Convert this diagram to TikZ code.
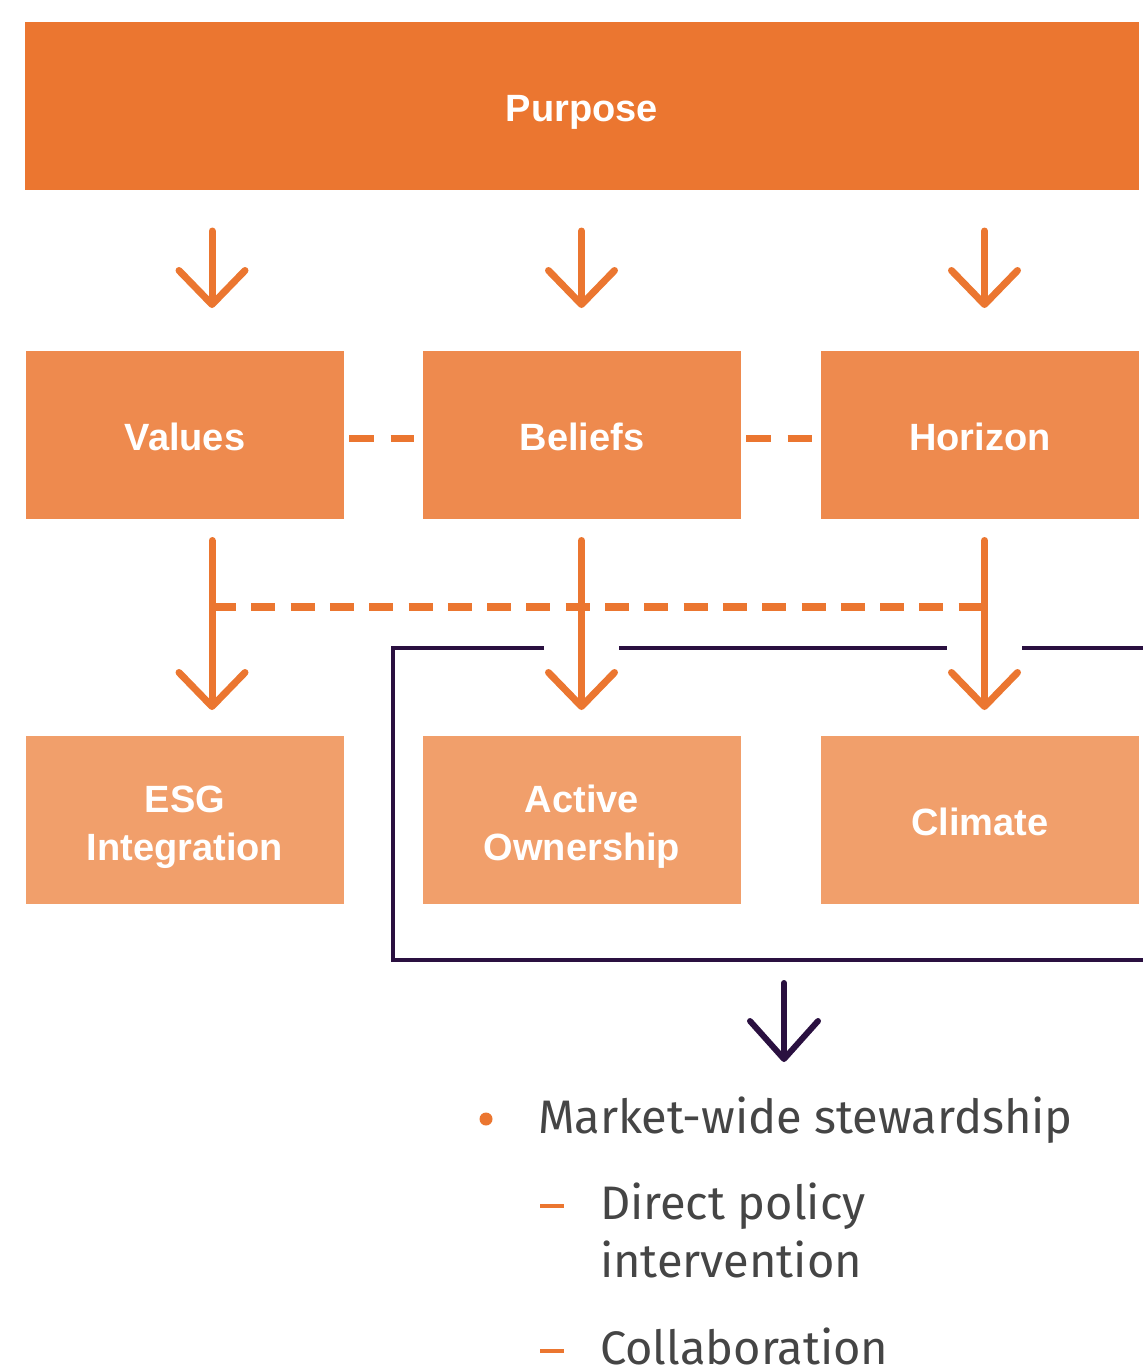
\documentclass[tikz,border=0pt]{standalone}
\usepackage{fontspec}
\setmainfont{Liberation Sans}
\newfontfamily\listfont{Fira Sans}
\usetikzlibrary{arrows.meta}
\definecolor{cTop}{HTML}{EB7630}
\definecolor{cMid}{HTML}{EE8A4E}
\definecolor{cBot}{HTML}{F19F6B}
\definecolor{cDark}{HTML}{2A1040}
\definecolor{cText}{HTML}{454545}
\begin{document}
\begin{tikzpicture}[x=1pt,y=-1pt,
  box/.style={rectangle, inner sep=0pt, outer sep=0pt, minimum width=318pt, minimum height=168pt,
    text=white, font=\fontsize{38}{48}\selectfont\bfseries, align=center, text height=31pt, text depth=0pt},
  twoline/.style={text height=80pt, text depth=0pt},
  arr/.style={draw=cTop, line width=7pt, line cap=round,
    -{Straight Barb[length=34pt, width=66pt, line cap=round, line join=round]}},
  darr/.style={draw=cDark, line width=6pt, line cap=round,
    -{Straight Barb[length=38pt, width=68pt, line cap=round, line join=round]}},
  dashconn/.style={draw=cTop, line width=7.5pt, dash pattern=on 24.5pt off 17pt},
  longdash/.style={draw=cTop, line width=7.5pt, dash pattern=on 24pt off 15.3pt},
  frame/.style={draw=cDark, line width=4.5pt},
  listtext/.style={anchor=base west, inner sep=0pt, outer sep=0pt, text=cText, align=left,
    font=\listfont\fontsize{47}{58}\selectfont},
  itemdash/.style={rectangle, fill=cTop, inner sep=0pt, minimum width=24pt, minimum height=4pt}
]
\useasboundingbox (0,0) rectangle (1143,1365);

% boxes
\node[box, fill=cTop, minimum width=1114pt] (purpose) at (582,106) {Purpose};
\node[box, fill=cMid] (values)  at (185,435) {Values};
\node[box, fill=cMid] (beliefs) at (582,435) {Beliefs};
\node[box, fill=cMid] (horizon) at (980,435) {Horizon};
\node[box, twoline, fill=cBot] (esg)     at (185,820) {ESG\\Integration};
\node[box, twoline, fill=cBot] (active)  at (582,820) {Active\\Ownership};
\node[box, fill=cBot] (climate) at (980,820) {Climate};

% arrow columns
\coordinate (c1) at (212,0);
\coordinate (c2) at (581.5,0);
\coordinate (c3) at (984.5,0);

% bracket frame
\draw[frame] (544,648) -- (393,648) -- (393,960) -- (1143,960);
\draw[frame] (619,648) -- (947,648);
\draw[frame] (1022,648) -- (1143,648);
\coordinate (fb) at (784,960);
\coordinate (fend) at (784,1062);

% arrows purpose -> row 2
\draw[arr, shorten <=41pt, shorten >=43pt] (purpose.south -| c1) -- (values.north -| c1);
\draw[arr, shorten <=41pt, shorten >=43pt] (purpose.south -| c2) -- (beliefs.north -| c2);
\draw[arr, shorten <=41pt, shorten >=43pt] (purpose.south -| c3) -- (horizon.north -| c3);

% dashed links row 2
\draw[dashconn, shorten <=5pt, shorten >=9pt] ([yshift=-3.5pt]values.east) -- ([yshift=-3.5pt]beliefs.west);
\draw[dashconn, shorten <=5pt, shorten >=5pt] ([yshift=-3.5pt]beliefs.east) -- ([yshift=-3.5pt]horizon.west);

% long dashed line
\coordinate (h1) at (212,607);
\coordinate (h3) at (984.5,607);
\draw[longdash] (h1) -- (h3);

% arrows row 2 -> row 3
\draw[arr, shorten <=21.5pt, shorten >=26pt] (values.south -| c1) -- (esg.north -| c1);
\draw[arr, shorten <=21.5pt, shorten >=26pt] (beliefs.south -| c2) -- (active.north -| c2);
\draw[arr, shorten <=21.5pt, shorten >=26pt] (horizon.south -| c3) -- (climate.north -| c3);

% dark arrow
\draw[darr, shorten <=23pt] (fb) -- (fend);

% list
\node[circle, fill=cTop, inner sep=0pt, minimum size=13pt] (dot) at (486,1119) {};
\node[listtext] (l1) at (538,1133) {Market-wide stewardship};
\node[itemdash] (d1) at (552,1206) {};
\node[listtext] (l2) at (600,1277) {Direct policy\\intervention};
\node[itemdash] (d2) at (552,1351) {};
\node[listtext] (l3) at (600,1364) {Collaboration};
\end{tikzpicture}
\end{document}
